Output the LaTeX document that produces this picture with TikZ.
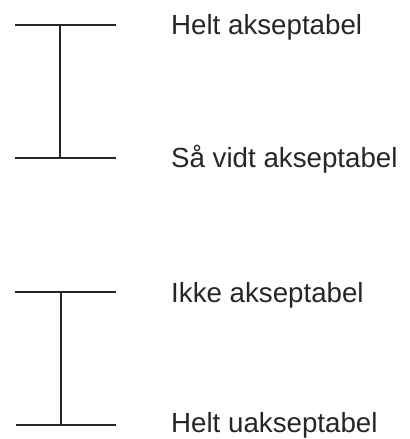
\documentclass[tikz,border=0pt]{standalone}
\usepackage{fontspec}
\setmainfont{Liberation Sans}
\begin{document}
\begin{tikzpicture}[x=1bp,y=-1bp,
  bar/.style={line width=1.4bp,black!85},
  lbl/.style={anchor=base west,inner sep=0pt,font=\fontsize{27.8}{30}\selectfont,text=black!85}]
\useasboundingbox (0,0) rectangle (409,439);
\coordinate (a1) at (15,25);  \coordinate (a2) at (116,25);
\coordinate (b1) at (15,158); \coordinate (b2) at (116,158);
\coordinate (c1) at (15,292); \coordinate (c2) at (116,292);
\coordinate (d1) at (16,425); \coordinate (d2) at (116,425);
\coordinate (ta) at (60,25);  \coordinate (tb) at (60,158);
\coordinate (tc) at (61,292); \coordinate (td) at (61,425);
\draw[bar] (a1) -- (a2);
\draw[bar] (b1) -- (b2);
\draw[bar] (ta) -- (tb);
\draw[bar] (c1) -- (c2);
\draw[bar] (d1) -- (d2);
\draw[bar] (tc) -- (td);
\node[lbl] (la) at (171,35) {Helt akseptabel};
\node[lbl] (lb) at (171,168) {Så vidt akseptabel};
\node[lbl] (lc) at (171,302) {Ikke akseptabel};
\node[lbl] (ld) at (171,432) {Helt uakseptabel};
\end{tikzpicture}
\end{document}
